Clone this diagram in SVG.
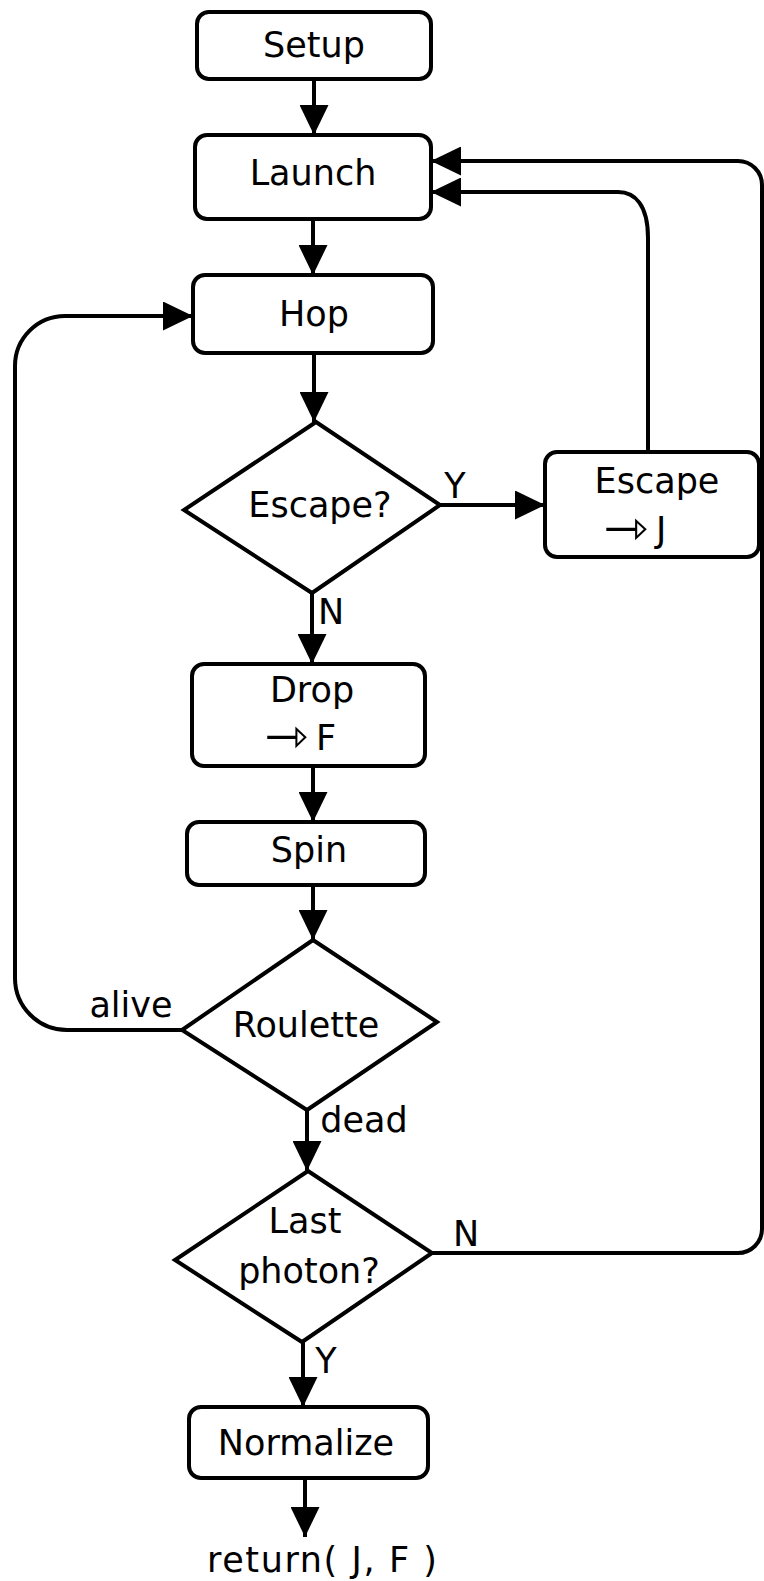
<svg xmlns="http://www.w3.org/2000/svg" width="764" height="1581" viewBox="0 0 764 1581">
  <style>
    .box { fill: #fff; stroke: #000; stroke-width: 4; }
    .edge { fill: none; stroke: #000; stroke-width: 4; }
    text { font-family: "DejaVu Sans", "Noto Sans", sans-serif; font-size: 35px; fill: #000; }
    .c { text-anchor: middle; }
    .sym { font-size: 50px; }
  </style>
  <defs>
    <marker id="ah" markerUnits="userSpaceOnUse" markerWidth="30" markerHeight="29" viewBox="0 0 30 29" refX="30" refY="14.5" orient="auto">
      <path d="M0 0 L30 14.5 L0 29 Z" fill="#000"/>
    </marker>
  </defs>

  <!-- connectors -->
  <g id="connectors">
    <path class="edge" d="M314 79 V135" marker-end="url(#ah)"/>
    <path class="edge" d="M313 219 V275" marker-end="url(#ah)"/>
    <path class="edge" d="M314 353 V422" marker-end="url(#ah)"/>
    <path class="edge" d="M440 505 H545" marker-end="url(#ah)"/>
    <path class="edge" d="M312 593 V664" marker-end="url(#ah)"/>
    <path class="edge" d="M648 452 V238 C648 205 635 192 618 192 H431" marker-end="url(#ah)"/>
    <path class="edge" d="M313 766 V822" marker-end="url(#ah)"/>
    <path class="edge" d="M313 885 V940" marker-end="url(#ah)"/>
    <path class="edge" d="M182 1030 H67 A52 52 0 0 1 15 978 V366 A50 50 0 0 1 65 316 H193" marker-end="url(#ah)"/>
    <path class="edge" d="M307 1110 V1171" marker-end="url(#ah)"/>
    <path class="edge" d="M432 1253 H738 A24 24 0 0 0 762 1229 V185 A24 24 0 0 0 738 161 H431" marker-end="url(#ah)"/>
    <path class="edge" d="M303 1342 V1407" marker-end="url(#ah)"/>
    <path class="edge" d="M305 1478 V1537" marker-end="url(#ah)"/>
    <text class="c" x="455" y="498">Y</text>
    <text class="c" x="331" y="624">N</text>
    <text class="c" x="131" y="1017">alive</text>
    <text class="c" x="364" y="1132">dead</text>
    <text class="c" x="466" y="1246">N</text>
    <text class="c" x="326" y="1373">Y</text>
  </g>

  <g id="setup">
    <rect class="box" x="197" y="12" width="234" height="67" rx="12"/>
    <text class="c" x="314" y="57">Setup</text>
  </g>
  <g id="launch">
    <rect class="box" x="195" y="135" width="236" height="84" rx="12"/>
    <text class="c" x="313" y="185">Launch</text>
  </g>
  <g id="hop">
    <rect class="box" x="193" y="275" width="240" height="78" rx="12"/>
    <text class="c" x="314" y="326">Hop</text>
  </g>
  <g id="escape-test">
    <polygon class="box" points="316,422 440,505 312,593 184,510"/>
    <text class="c" x="320" y="517">Escape?</text>
  </g>
  <g id="escape">
    <rect class="box" x="545" y="452" width="214" height="105" rx="12"/>
    <text class="c" x="657" y="493">Escape</text>
    <text class="sym" x="603" y="545" textLength="45" lengthAdjust="spacingAndGlyphs">⇾</text>
    <text x="656" y="542">J</text>
  </g>
  <g id="drop">
    <rect class="box" x="192" y="664" width="233" height="102" rx="12"/>
    <text class="c" x="312" y="702">Drop</text>
    <text class="sym" x="264" y="753" textLength="44" lengthAdjust="spacingAndGlyphs">⇾</text>
    <text x="316" y="750">F</text>
  </g>
  <g id="spin">
    <rect class="box" x="187" y="822" width="238" height="63" rx="12"/>
    <text class="c" x="309" y="862">Spin</text>
  </g>
  <g id="roulette">
    <polygon class="box" points="313,940 437,1022 307,1110 182,1030"/>
    <text class="c" x="306" y="1037">Roulette</text>
  </g>
  <g id="last-photon">
    <polygon class="box" points="308,1171 432,1253 302,1342 175,1260"/>
    <text class="c" x="305" y="1233">Last</text>
    <text class="c" x="309" y="1283">photon?</text>
  </g>
  <g id="normalize">
    <rect class="box" x="189" y="1407" width="239" height="71" rx="12"/>
    <text class="c" x="306" y="1455">Normalize</text>
  </g>
  <g id="return">
    <text class="c" x="322" y="1572" textLength="230">return( J, F )</text>
  </g>
</svg>
